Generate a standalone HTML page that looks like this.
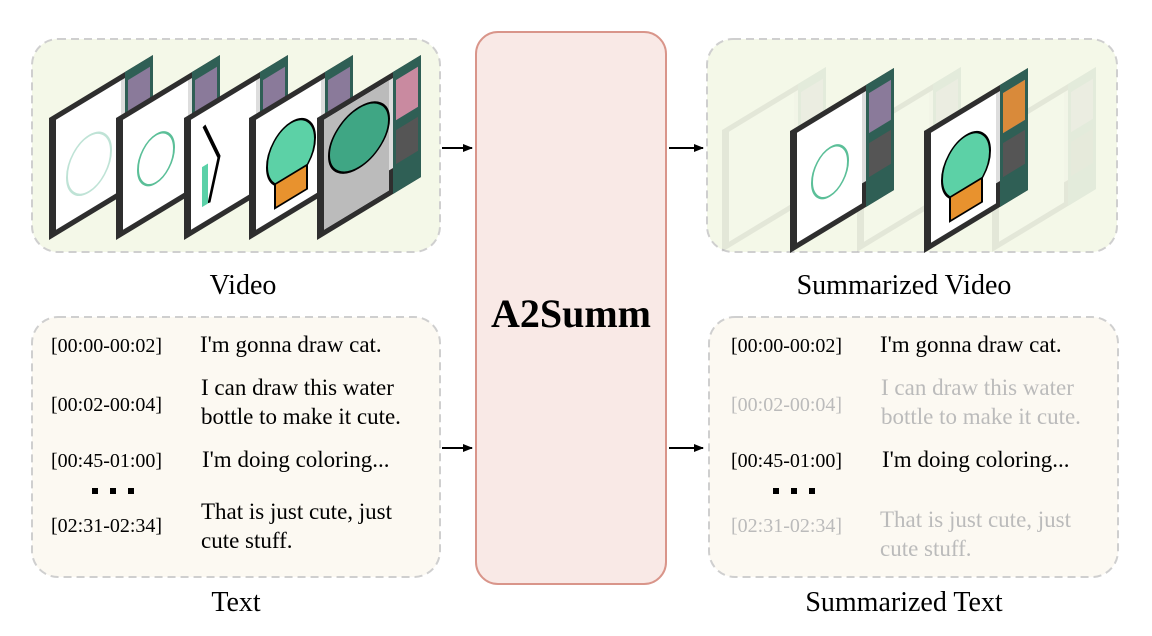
<!DOCTYPE html>
<html><head><meta charset="utf-8"><style>
html,body{margin:0;padding:0;background:#fff;}
svg{display:block;}
</style></head><body>
<svg width="1152" height="636" viewBox="0 0 1152 636" xmlns="http://www.w3.org/2000/svg" font-family="'Liberation Serif', serif">
<defs>
<marker id="ah" markerWidth="10" markerHeight="10" refX="9" refY="5" orient="auto" markerUnits="userSpaceOnUse">
<path d="M0,1 L10,5 L0,9 Z" fill="#000"/></marker>
<g id="frame">
<rect x="0" y="0" width="104" height="122" fill="#2e2e2e"/>
<rect x="7" y="6" width="65" height="110" fill="#fff"/>
<rect x="76" y="0" width="28" height="122" fill="#2f5f55"/>
<rect x="79" y="10" width="22" height="40" fill="#8a7a9a"/>
<rect x="79" y="60" width="22" height="34" fill="#555"/>
<rect x="72" y="6" width="4" height="90" fill="#ddd"/>
</g>
</defs>

<rect x="32" y="39" width="408" height="213" rx="26" fill="#f4f8e8" stroke="#cfcfcf" stroke-width="2" stroke-dasharray="8,5"/>
<g transform="translate(49,118) matrix(1,-0.606,0,1,0,0)"><use href="#frame"/><ellipse cx="40" cy="70" rx="22" ry="28" fill="none" stroke="#bfe3d6" stroke-width="2"/></g>
<g transform="translate(116,118) matrix(1,-0.606,0,1,0,0)"><use href="#frame"/><ellipse cx="40" cy="65" rx="18" ry="24" fill="none" stroke="#5bbf98" stroke-width="2"/></g>
<g transform="translate(184,118) matrix(1,-0.606,0,1,0,0)"><use href="#frame"/><path d="M20,20 L35,60 L25,100" fill="none" stroke="#000" stroke-width="3"/><rect x="18" y="60" width="6" height="40" fill="#5bd1a8"/></g>
<g transform="translate(249,118) matrix(1,-0.606,0,1,0,0)"><use href="#frame"/><ellipse cx="42" cy="60" rx="24" ry="30" fill="#5cd1a6" stroke="#000" stroke-width="2"/><rect x="26" y="82" width="32" height="24" fill="#e8922e" stroke="#000" stroke-width="2"/></g>
<g transform="translate(317,118) matrix(1,-0.606,0,1,0,0)"><use href="#frame"/><rect x="7" y="6" width="65" height="110" fill="#bbb"/><ellipse cx="42" cy="45" rx="30" ry="30" fill="#3fa684" stroke="#000" stroke-width="2"/><rect x="79" y="10" width="22" height="40" fill="#c98aa0"/></g>

<rect x="707" y="39" width="410" height="213" rx="26" fill="#f4f8e8" stroke="#cfcfcf" stroke-width="2" stroke-dasharray="8,5"/>
<g opacity="0.08">
<g transform="translate(722,252) matrix(1,-0.606,0,1,0,-122)"><use href="#frame"/></g>
<g transform="translate(857,252) matrix(1,-0.606,0,1,0,-122)"><use href="#frame"/></g>
<g transform="translate(992,252) matrix(1,-0.606,0,1,0,-122)"><use href="#frame"/></g>
</g>
<g transform="translate(790,131) matrix(1,-0.606,0,1,0,0)"><use href="#frame"/><ellipse cx="40" cy="65" rx="18" ry="24" fill="none" stroke="#5bbf98" stroke-width="2"/></g>
<g transform="translate(924,131) matrix(1,-0.606,0,1,0,0)"><use href="#frame"/><ellipse cx="42" cy="60" rx="24" ry="30" fill="#5cd1a6" stroke="#000" stroke-width="2"/><rect x="26" y="82" width="32" height="24" fill="#e8922e" stroke="#000" stroke-width="2"/><rect x="79" y="10" width="22" height="40" fill="#d98a3a"/></g>

<rect x="476" y="32" width="190" height="552" rx="22" fill="#f9e9e6" stroke="#d9958a" stroke-width="2"/>
<text x="571" y="327" text-anchor="middle" font-size="40" font-weight="bold">A2Summ</text>

<line x1="442" y1="148" x2="472" y2="148" stroke="#000" stroke-width="2" marker-end="url(#ah)"/>
<line x1="442" y1="448" x2="472" y2="448" stroke="#000" stroke-width="2" marker-end="url(#ah)"/>
<line x1="669" y1="148" x2="703" y2="148" stroke="#000" stroke-width="2" marker-end="url(#ah)"/>
<line x1="669" y1="448" x2="703" y2="448" stroke="#000" stroke-width="2" marker-end="url(#ah)"/>

<text x="243" y="294" text-anchor="middle" font-size="28">Video</text>
<text x="904" y="294" text-anchor="middle" font-size="28">Summarized Video</text>
<text x="236" y="611" text-anchor="middle" font-size="28">Text</text>
<text x="904" y="611" text-anchor="middle" font-size="28">Summarized Text</text>

<rect x="32" y="317" width="408" height="260" rx="26" fill="#fcf9f2" stroke="#cfcfcf" stroke-width="2" stroke-dasharray="8,5"/>
<g font-size="20" fill="#000">
<text x="51" y="352">[00:00-00:02]</text>
<text x="51" y="411">[00:02-00:04]</text>
<text x="51" y="467">[00:45-01:00]</text>
<text x="51" y="532">[02:31-02:34]</text>
</g>
<g fill="#000"><rect x="92" y="488" width="6" height="6"/><rect x="110" y="488" width="6" height="6"/><rect x="128" y="488" width="6" height="6"/></g>
<g font-size="23" fill="#000">
<text x="200" y="352">I'm gonna draw cat.</text>
<text x="201" y="395">I can draw this water</text>
<text x="201" y="424">bottle to make it cute.</text>
<text x="202" y="467">I'm doing coloring...</text>
<text x="201" y="519">That is just cute, just</text>
<text x="201" y="548">cute stuff.</text>
</g>

<rect x="709" y="317" width="409" height="260" rx="26" fill="#fcf9f2" stroke="#cfcfcf" stroke-width="2" stroke-dasharray="8,5"/>
<g font-size="20">
<text x="731" y="352" fill="#000">[00:00-00:02]</text>
<text x="731" y="411" fill="#bbb">[00:02-00:04]</text>
<text x="731" y="467" fill="#000">[00:45-01:00]</text>
<text x="731" y="532" fill="#bbb">[02:31-02:34]</text>
</g>
<g fill="#000"><rect x="773" y="488" width="6" height="6"/><rect x="791" y="488" width="6" height="6"/><rect x="809" y="488" width="6" height="6"/></g>
<g font-size="23">
<text x="880" y="352" fill="#000">I'm gonna draw cat.</text>
<text x="881" y="395" fill="#bbb">I can draw this water</text>
<text x="881" y="424" fill="#bbb">bottle to make it cute.</text>
<text x="882" y="467" fill="#000">I'm doing coloring...</text>
<text x="880" y="527" fill="#bbb">That is just cute, just</text>
<text x="880" y="556" fill="#bbb">cute stuff.</text>
</g>
</svg>
</body></html>
